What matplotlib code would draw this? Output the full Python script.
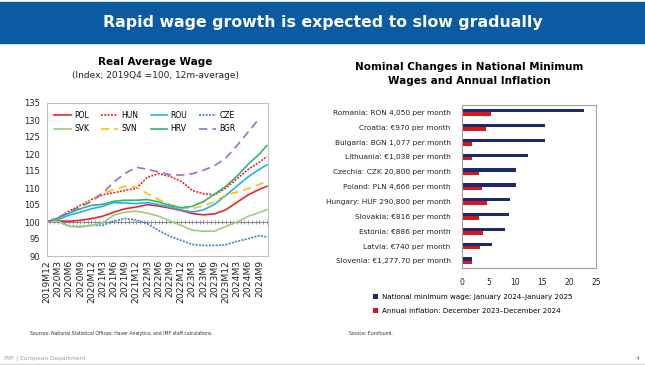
import matplotlib.pyplot as plt
from matplotlib.patches import Rectangle

# ---- left chart: real average wage (index, 2019Q4 = 100) ----
quarter_labels = ["2019M12", "2020M3", "2020M6", "2020M9", "2020M12",
                  "2021M3", "2021M6", "2021M9", "2021M12", "2022M3",
                  "2022M6", "2022M9", "2022M12", "2023M3", "2023M6",
                  "2023M9", "2023M12", "2024M3", "2024M6", "2024M9"]
point_months = quarter_labels + ["2024M11"]

pol = [100, 100.3, 100.2, 100.5, 101, 101.7, 102.9, 103.9, 104.4, 105.1, 104.7,
       104.1, 103.4, 102.5, 102.1, 102.4, 103.6, 105.8, 108, 109.6, 110.5]
hun = [100, 101, 103.2, 104.9, 106.6, 108, 108.6, 109.3, 109.9, 113.2, 114.2,
       113.4, 112, 109.3, 108.3, 108, 110, 112.7, 115.5, 117.6, 119.3]
rou = [100, 100.7, 102, 102.9, 103.9, 104.6, 105.7, 105.6, 105.4, 105.7, 105.1,
       104.4, 103.6, 102.9, 103.6, 105.2, 107.8, 110.6, 113.3, 115.5, 116.8]
cze = [100, 100.3, 98.8, 98.7, 99, 99, 100.3, 101, 100.6, 99.5, 97.5,
       95.8, 94.6, 93.4, 93.1, 93.1, 93.3, 94.3, 95.1, 96, 95.6]
svk = [100, 100.2, 98.7, 98.5, 99, 99.7, 102, 102.9, 103.2, 102.6, 101.7,
       100.3, 99, 97.6, 97.3, 97.3, 98.7, 100, 101.7, 102.8, 103.6]
svn = [100, 101, 102.8, 104.4, 106.6, 108.5, 109.5, 110.5, 110.3, 108.3, 106.6,
       105.1, 104.2, 103.9, 104.8, 105.9, 108, 108.8, 109.8, 111.1, 112]
hrv = [100, 101.2, 102.6, 103.9, 104.9, 105.2, 106.1, 106.4, 106.4, 106.6, 105.9,
       104.9, 104.2, 104.6, 106, 108.2, 110.5, 113.5, 117, 120, 122.5]
bgr = [100, 101.3, 103, 104.5, 106, 108.5, 111.8, 114.3, 116.1, 115.5, 114.7,
       113.9, 113.8, 114.2, 115.2, 116.6, 118.8, 122.5, 126.5, 130.5]

# ---- right chart: minimum wage vs inflation ----
countries = ["Romania: RON 4,050 per month", "Croatia: €970 per month",
             "Bulgaria: BGN 1,077 per month", "Lithuania: €1,038 per month",
             "Czechia: CZK 20,800 per month", "Poland: PLN 4,666 per month",
             "Hungary: HUF 290,800 per month", "Slovakia: €816 per month",
             "Estonia: €886 per month", "Latvia: €740 per month",
             "Slovenia: €1,277.70 per month"]
min_wage = [22.8, 15.5, 15.5, 12.3, 10.1, 10.1, 9.0, 8.8, 8.1, 5.7, 1.9]
inflation = [5.5, 4.5, 2.0, 1.9, 3.3, 3.8, 4.8, 3.2, 4.0, 3.4, 2.0]


def month_index(label):
    year, month = label.split("M")
    return (int(year) - 2019) * 12 + int(month) - 12


W, H = 645, 365
fig = plt.figure(figsize=(W / 100, H / 100), dpi=100)
fig.patch.set_facecolor("white")

# banner
fig.patches.append(Rectangle((0, 1 - 43 / H), 1, 41 / H, transform=fig.transFigure,
                             color="#0b5ba3", zorder=0))
fig.text(0.5, 1 - 22 / H, "Rapid wage growth is expected to slow gradually",
         color="white", fontsize=11.3, fontweight="bold", ha="center", va="center")

# ---------------- left chart ----------------
ax = fig.add_axes([46.7 / W, 1 - 256 / H, (268 - 46.7) / W, (256 - 103) / H])
xs = [month_index(m) for m in point_months]

series = [
    ("POL", pol, dict(color="#e8262b", ls="-")),
    ("HUN", hun, dict(color="#e8262b", ls=(0, (1.2, 0.8)))),
    ("ROU", rou, dict(color="#1fb4f0", ls="-")),
    ("CZE", cze, dict(color="#3a7fd0", ls=(0, (1.2, 0.8)))),
    ("SVK", svk, dict(color="#9ccb82", ls="-")),
    ("SVN", svn, dict(color="#ffc000", ls=(0, (5, 3)))),
    ("HRV", hrv, dict(color="#37b36b", ls="-")),
    ("BGR", bgr, dict(color="#9b6bd0", ls=(0, (5, 3)))),
]

all_months = list(range(month_index("2024M11") + 1))
ax.plot(all_months, [100] * len(all_months), color="#8c8c8c", lw=0.8,
        marker="|", markersize=3, markeredgewidth=0.6, zorder=1)

lines = {}
for name, vals, style in series:
    lines[name], = ax.plot(xs[:len(vals)], vals, label=name, lw=1.2, zorder=2, **style)

ax.set_xlim(0, 59.3)
ax.set_ylim(90, 135)
ax.set_yticks(range(90, 136, 5))
ax.set_xticks([month_index(m) for m in quarter_labels])
ax.set_xticklabels(quarter_labels, rotation=90)
ax.tick_params(axis="both", length=0, labelsize=6, colors="#222222")
ax.tick_params(axis="x", labelsize=6.6, pad=3)
ax.tick_params(axis="y", pad=5)
for sp in ax.spines.values():
    sp.set_color("#c0c0c0")
    sp.set_linewidth(0.8)

# legend filled row by row like the original
order = ["POL", "SVK", "HUN", "SVN", "ROU", "HRV", "CZE", "BGR"]
ax.legend([lines[n] for n in order], order, ncol=4, loc="upper left",
          bbox_to_anchor=(0.0, 1.0), frameon=False,
          fontsize=5.5, handlelength=2.2, handletextpad=0.4, columnspacing=1.6,
          labelspacing=0.6, borderaxespad=0.6)

fig.text(155.5 / W, 1 - 62 / H, "Real Average Wage", fontsize=7.5,
         fontweight="bold", ha="center", va="center")
fig.text(155.5 / W, 1 - 75 / H, "(Index; 2019Q4 =100, 12m-average)", fontsize=6.5,
         ha="center", va="center", color="#222222")

# ---------------- right chart ----------------
bx = fig.add_axes([461.7 / W, 1 - 268.3 / H, (596 - 461.7) / W, (268.3 - 105) / H])
pos = list(range(len(countries)))
bh = 0.23
bx.barh([p - bh / 2 for p in pos], min_wage, height=bh, color="#1b2a6e",
        label="National minimum wage: January 2024\u2013January 2025")
bx.barh([p + bh / 2 for p in pos], inflation, height=bh, color="#d9141c",
        label="Annual inflation: December 2023\u2013December 2024")
bx.set_ylim(len(countries) - 0.5, -0.5)
bx.set_xlim(0, 25)
bx.set_xticks(range(0, 26, 5))
bx.set_yticks(pos)
bx.set_yticklabels(countries)
bx.tick_params(axis="both", length=0, labelsize=5.5, colors="#222222")
bx.tick_params(axis="y", labelsize=5.3, pad=8)
bx.tick_params(axis="x", pad=7)
for sp in bx.spines.values():
    sp.set_color("#a0a0a0")
    sp.set_linewidth(0.8)

handles, labels = bx.get_legend_handles_labels()
fig.legend(handles, labels, loc="upper left", bbox_to_anchor=(370 / W, 1 - 291 / H),
           frameon=False, fontsize=5.1, handlelength=0.75, handleheight=0.75,
           handletextpad=0.5, labelspacing=1.15, borderaxespad=0)

fig.text(469.5 / W, 1 - 74 / H, "Nominal Changes in National Minimum\nWages and Annual Inflation",
         fontsize=7.5, fontweight="bold", ha="center", va="center", linespacing=1.45)

# sources and footer
fig.text(30 / W, 1 - 333.5 / H,
         "Sources: National Statistical Offices; Haver Analytics; and IMF staff calculations.",
         fontsize=3.3, ha="left", va="center", color="#333333")
fig.text(349 / W, 1 - 333.5 / H, "Source: Eurofound.", fontsize=3.3, ha="left",
         va="center", color="#333333")
fig.text(4 / W, 1 - 358 / H, "IMF | European Department", fontsize=4.2, ha="left",
         va="center", color="#a0a0a0")
fig.text(640 / W, 1 - 358 / H, "4", fontsize=4.5, ha="right", va="center",
         color="#2a8ad0")
fig.add_artist(plt.Line2D([0, 1], [1 - 364 / H, 1 - 364 / H], color="#d8d8d8", lw=1))

fig.savefig("out.png", dpi=100)
